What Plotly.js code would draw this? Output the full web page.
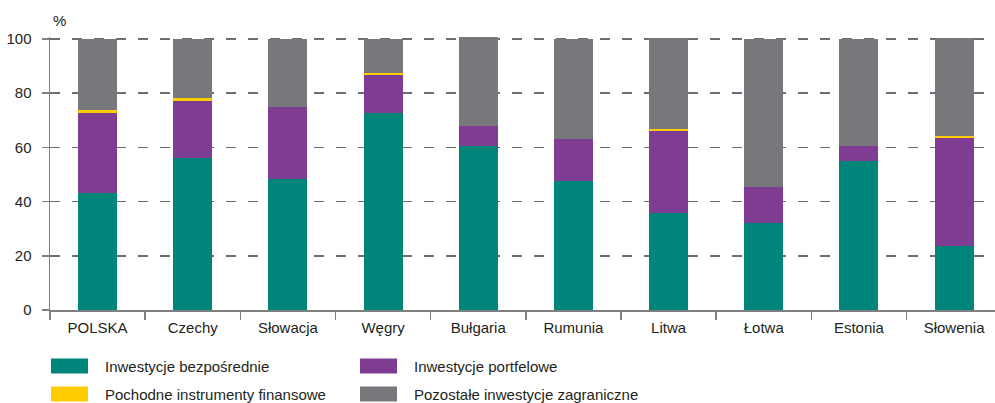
<!DOCTYPE html>
<html>
<head>
<meta charset="utf-8">
<script src="https://cdn.plot.ly/plotly-3.0.1.min.js"></script>
<style>html,body{margin:0;padding:0;background:#fff;overflow:hidden}#chart{width:995px;height:403px}</style>
</head>
<body>
<div id="chart"></div>
<script>
const categories = ['POLSKA','Czechy','Słowacja','Węgry','Bułgaria','Rumunia','Litwa','Łotwa','Estonia','Słowenia'];
const seriesNames = ['Inwestycje bezpośrednie','Inwestycje portfelowe','Pochodne instrumenty finansowe','Pozostałe inwestycje zagraniczne'];
const direct      = [43.0, 56.2, 48.3, 72.7, 60.6, 47.6, 35.9, 32.1, 55.0, 23.7];
const portfolio   = [29.8, 21.0, 26.4, 14.0,  7.1, 15.3, 30.3, 13.3,  5.5, 39.9];
const derivatives = [ 1.0,  1.0,  0.0,  0.9,  0.3,  0.0,  0.4,  0.0,  0.0,  0.4];
const other       = [26.2, 21.8, 25.3, 12.4, 32.6, 37.1, 33.9, 54.6, 39.5, 36.5];
const yTicks = [0, 20, 40, 60, 80, 100];

const colors = ['#00857a', '#7e3c93', '#ffcc00', '#77787b'];
const values = [direct, portfolio, derivatives, other];
const FONT = '"Liberation Sans", Arial, sans-serif';
const FS = 15;
const txtColor = '#231f20';

const traces = values.map((v, i) => ({
  type: 'bar', x: categories, y: v, name: seriesNames[i],
  marker: {color: colors[i], line: {width: 0}},
  width: 0.41, showlegend: false, hoverinfo: 'x+y+name'
}));

const W = 995, H = 403, mL = 50, mR = 0, mT = 37, mB = 93;
const pw = W - mL - mR, ph = H - mT - mB;
const px2x = px => (px - mL) / pw;
const py2y = py => (H - mB - py) / ph;

// legend built from series names
const legendPos = [
  {sx: 51, tx: 103, cy: 366},
  {sx: 360, tx: 412, cy: 366},
  {sx: 51, tx: 103, cy: 394},
  {sx: 360, tx: 412, cy: 394}
];
const shapes = [];
const annotations = [];
seriesNames.forEach((n, i) => {
  const p = legendPos[i];
  shapes.push({type: 'rect', xref: 'paper', yref: 'paper',
    x0: px2x(p.sx), x1: px2x(p.sx + 37), y0: py2y(p.cy + 7.5), y1: py2y(p.cy - 7.5),
    fillcolor: colors[i], line: {width: 0}});
  annotations.push({xref: 'paper', yref: 'paper', x: px2x(p.tx), y: py2y(p.cy),
    xanchor: 'left', yanchor: 'middle', showarrow: false, text: n,
    font: {family: FONT, size: FS, color: txtColor}});
});
annotations.push({xref: 'paper', yref: 'paper', x: px2x(51), y: py2y(20), xanchor: 'left', yanchor: 'middle',
  showarrow: false, text: '%', font: {family: FONT, size: FS, color: txtColor}});

const layout = {
  width: W, height: H,
  margin: {l: mL, r: mR, t: mT, b: mB, pad: 0},
  paper_bgcolor: '#fff', plot_bgcolor: '#fff',
  barmode: 'stack',
  font: {family: FONT, size: FS, color: txtColor},
  xaxis: {
    type: 'category', range: [-0.5, 9.43],
    showline: true, linecolor: '#808080', linewidth: 1.5,
    ticks: 'outside', tickson: 'boundaries', ticklen: 8, tickcolor: '#808080', tickwidth: 1.5,
    showgrid: false, zeroline: false, ticklabelstandoff: 3,
    tickfont: {family: FONT, size: FS, color: txtColor}
  },
  yaxis: {
    range: [0, 100.7], tickvals: yTicks, ticktext: yTicks.map(String),
    showline: true, linecolor: '#808080', linewidth: 1.5,
    ticks: 'outside', ticklen: 7, tickcolor: '#808080', tickwidth: 1.5,
    showgrid: true, gridcolor: '#6d6e71', gridwidth: 1.5, griddash: '10px,12px',
    zeroline: false, ticklabelstandoff: 7,
    tickfont: {family: FONT, size: FS, color: txtColor}
  },
  shapes: shapes,
  annotations: annotations
};

Plotly.newPlot('chart', traces, layout, {displayModeBar: false, staticPlot: true});
</script>
</body>
</html>
